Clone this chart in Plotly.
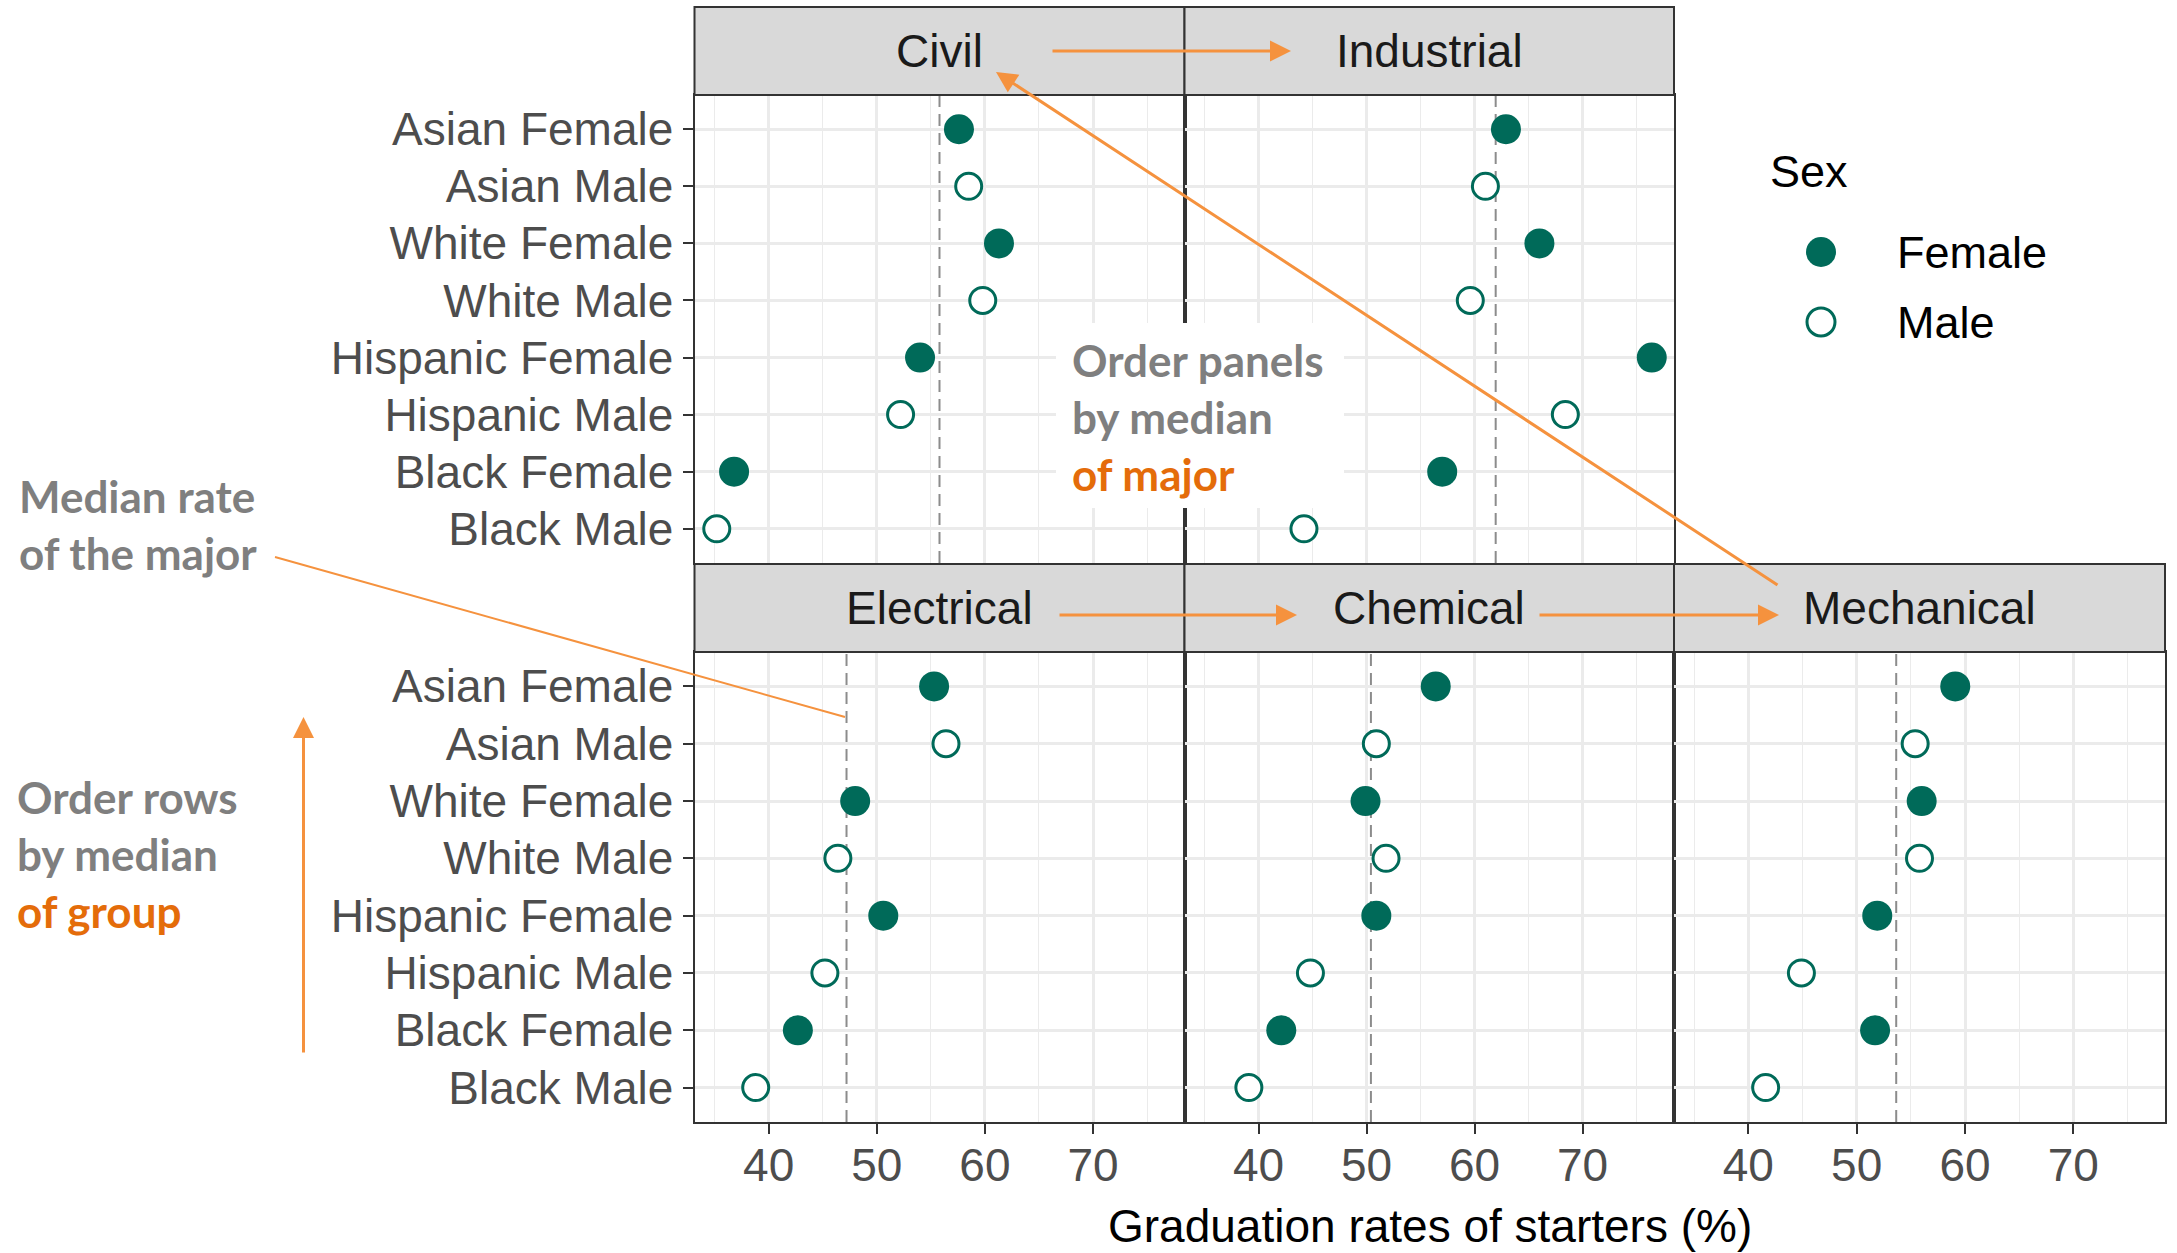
import numpy as np
import plotly.graph_objects as go

# ---------------- data ----------------
groups = ["Asian Female", "Asian Male", "White Female", "White Male",
          "Hispanic Female", "Hispanic Male", "Black Female", "Black Male"]
sex = ["Female", "Male", "Female", "Male", "Female", "Male", "Female", "Male"]
majors = ["Civil", "Industrial", "Electrical", "Chemical", "Mechanical"]
civil = [57.6, 58.5, 61.3, 59.8, 54.0, 52.2, 36.8, 35.2]
industrial = [62.9, 61.0, 66.0, 59.6, 76.4, 68.4, 57.0, 44.2]
electrical = [55.3, 56.4, 48.0, 46.4, 50.6, 45.2, 42.7, 38.8]
chemical = [56.4, 50.9, 49.9, 51.8, 50.9, 44.8, 42.1, 39.1]
mechanical = [59.1, 55.4, 56.0, 55.8, 51.9, 44.9, 51.7, 41.6]
x_ticks = [40, 50, 60, 70]
x_minor = [35, 45, 55, 65, 75]
x_title = "Graduation rates of starters (%)"
legend_title = "Sex"

values = [civil, industrial, electrical, chemical, mechanical]

# ---------------- layout geometry ----------------
W, H = 2177, 1253
def fx(p): return p / W
def fy(p): return 1 - p / H

cols = [(694.5, 1184.5), (1184.5, 1674), (1674, 2165)]
top_panel, bot_panel = (95, 563), (652, 1122)
top_strip, bot_strip = (7, 95), (564, 652)
place = [(0, 0), (1, 0), (0, 1), (1, 1), (2, 1)]

teal = "#006A59"
orange_line = "#F5923E"
orange_text = "#E46C0A"
grey_text = "#7F7F7F"
grid = "#EBEBEB"
border = "#333333"
FONT = "Liberation Sans, Arial, sans-serif"

allv = np.concatenate([np.array(v) for v in values])
span = allv.max() - allv.min()
xrange = [allv.min() - 0.05 * span, allv.max() + 0.05 * span]
n = len(groups)
ypos = [n - i for i in range(n)]
yrange = [0.4, n + 0.6]

fig = go.Figure()
shapes, annotations = [], []
axes = {}

for k, (major, vals) in enumerate(zip(majors, values)):
    c, r = place[k]
    sfx = "" if k == 0 else str(k + 1)
    xa, ya = "x" + sfx, "y" + sfx
    med = float(np.median(vals))
    # median reference line (drawn first, under the points)
    fig.add_trace(go.Scatter(x=[med, med], y=yrange, mode="lines", xaxis=xa, yaxis=ya,
                             showlegend=False, hoverinfo="skip",
                             line=dict(color="#8C8C8C", width=2, dash="12px,7px")))
    fem_x = [v for v, s in zip(vals, sex) if s == "Female"]
    fem_y = [y for y, s in zip(ypos, sex) if s == "Female"]
    mal_x = [v for v, s in zip(vals, sex) if s == "Male"]
    mal_y = [y for y, s in zip(ypos, sex) if s == "Male"]
    fig.add_trace(go.Scatter(x=fem_x, y=fem_y, mode="markers", xaxis=xa, yaxis=ya,
                             name="Female", showlegend=False,
                             marker=dict(symbol="circle", size=30, color=teal,
                                         line=dict(width=0))))
    fig.add_trace(go.Scatter(x=mal_x, y=mal_y, mode="markers", xaxis=xa, yaxis=ya,
                             name="Male", showlegend=False,
                             marker=dict(symbol="circle", size=26, color="white",
                                         line=dict(width=3, color=teal))))
    x0, x1 = cols[c]
    py0, py1 = top_panel if r == 0 else bot_panel
    bottom_row = (r == 1)
    left_col = (c == 0)
    axes["xaxis" + sfx] = dict(
        domain=[fx(x0), fx(x1)], anchor=ya, range=xrange,
        tickvals=x_ticks, showticklabels=bottom_row,
        ticks="outside" if bottom_row else "", ticklen=10, tickwidth=2, tickcolor=border,
        ticklabelstandoff=-8,
        tickfont=dict(family=FONT, size=46, color="#4D4D4D"),
        showgrid=True, gridcolor=grid, gridwidth=2.6,
        minor=dict(tickvals=x_minor, showgrid=True, gridcolor=grid, gridwidth=1.3, ticks=""),
        showline=True, mirror=True, linecolor=border, linewidth=2, zeroline=False,
        fixedrange=True)
    axes["yaxis" + sfx] = dict(
        domain=[fy(py1), fy(py0)], anchor=xa, range=yrange,
        tickvals=ypos, ticktext=groups, showticklabels=left_col,
        ticks="outside" if left_col else "", ticklen=10, tickwidth=2, tickcolor=border,
        tickfont=dict(family=FONT, size=46, color="#4D4D4D"),
        showgrid=True, gridcolor=grid, gridwidth=2.6,
        showline=True, mirror=True, linecolor=border, linewidth=2, zeroline=False,
        fixedrange=True)
    # facet strip
    sy0, sy1 = top_strip if r == 0 else bot_strip
    shapes.append(dict(type="rect", xref="paper", yref="paper",
                       x0=fx(x0), x1=fx(x1), y0=fy(sy1), y1=fy(sy0),
                       fillcolor="#D9D9D9", line=dict(color=border, width=2),
                       layer="above"))
    annotations.append(dict(text=major, xref="paper", yref="paper",
                            x=fx((x0 + x1) / 2), y=fy((sy0 + sy1) / 2),
                            showarrow=False, xanchor="center", yanchor="middle",
                            font=dict(family=FONT, size=46, color="#1A1A1A")))

# x axis title
annotations.append(dict(text=x_title, xref="paper", yref="paper",
                        x=fx(1430), y=fy(1226), showarrow=False,
                        xanchor="center", yanchor="middle",
                        font=dict(family=FONT, size=46, color="black")))

# legend drawn by hand so the keys keep the large point size of the plot
annotations.append(dict(text=legend_title, xref="paper", yref="paper",
                        x=fx(1768), y=fy(171), showarrow=False,
                        xanchor="left", yanchor="middle",
                        font=dict(family=FONT, size=45, color="black")))
for lab, ly, filled in [("Female", 252, True), ("Male", 322, False)]:
    rr = 15 if filled else 14
    shapes.append(dict(type="circle", xref="paper", yref="paper",
                       xsizemode="pixel", ysizemode="pixel",
                       xanchor=fx(1821), yanchor=fy(ly),
                       x0=-rr, x1=rr, y0=-rr, y1=rr,
                       fillcolor=teal if filled else "white",
                       line=dict(color=teal, width=0 if filled else 3),
                       layer="above"))
    annotations.append(dict(text=lab, xref="paper", yref="paper",
                            x=fx(1895), y=fy(ly), showarrow=False,
                            xanchor="left", yanchor="middle",
                            font=dict(family=FONT, size=45, color="black")))

# callouts
ANN = "Lato, Open Sans, sans-serif"
shapes.append(dict(type="rect", xref="paper", yref="paper",
                   x0=fx(1056), x1=fx(1344), y0=fy(508), y1=fy(323),
                   fillcolor="white", line=dict(width=0), layer="above"))
callouts = [
    ("<b>Order panels<br>by median<br><span style='color:%s'>of major</span></b>" % orange_text, 1070, 417),
    ("<b>Median rate<br>of the major</b>", 17, 525),
    ("<b>Order rows<br>by median<br><span style='color:%s'>of group</span></b>" % orange_text, 15, 854),
]
for txt, lx, ly in callouts:
    annotations.append(dict(text=txt, xref="paper", yref="paper",
                            x=fx(lx), y=fy(ly), showarrow=False,
                            xanchor="left", yanchor="middle", align="left",
                            font=dict(family=ANN, size=44, color=grey_text)))

# leader line pointing at the median line
shapes.append(dict(type="line", xref="paper", yref="paper",
                   x0=fx(275), y0=fy(557), x1=fx(845), y1=fy(717),
                   line=dict(color=orange_line, width=2), layer="above"))

# arrows: (head_x, head_y, tail_x, tail_y) in pixels
arrows = [(1291, 51, 1051, 51), (1297, 615, 1058, 615), (1779, 615, 1538, 615),
          (996, 72, 1779, 586), (303.5, 717, 303.5, 1054)]
for hx, hy, tx, ty in arrows:
    annotations.append(dict(text="", xref="paper", yref="paper",
                            x=fx(hx), y=fy(hy), ax=tx - hx, ay=ty - hy,
                            showarrow=True, arrowhead=2, arrowsize=1.4,
                            arrowwidth=3, arrowcolor=orange_line,
                            standoff=0, startstandoff=0))

fig.update_layout(**axes)
fig.update_layout(shapes=shapes, annotations=annotations,
                  width=W, height=H, margin=dict(l=0, r=0, t=0, b=0),
                  paper_bgcolor="white", plot_bgcolor="white", showlegend=False)

fig.write_html("out.html", include_plotlyjs=True, config=dict(displayModeBar=False))
